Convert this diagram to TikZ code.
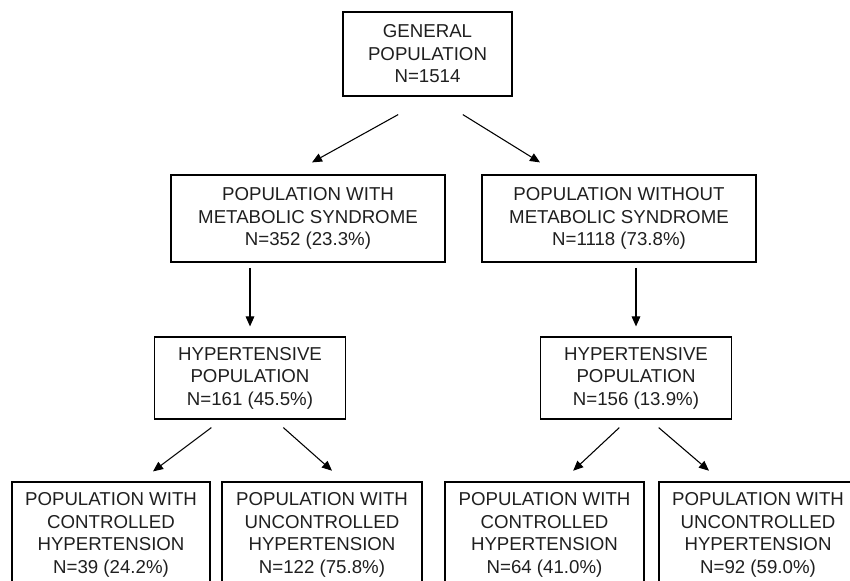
\documentclass[tikz,border=0pt]{standalone}
\usepackage{fontspec}
\setmainfont{Liberation Sans}
\usetikzlibrary{arrows.meta, positioning, calc}

\begin{document}
\begin{tikzpicture}[
  x=0.75pt, y=-0.75pt,
  box/.style={rectangle, draw, line width=0.9pt, inner sep=0pt, align=center, text=black!88, font=\fontsize{14}{16.9}\selectfont},
  arrow/.style={-{Triangle[length=7.5pt, width=6.5pt]}, line width=0.8pt}
]
\useasboundingbox (0,0) rectangle (850,581);
\clip (0,0) rectangle (850,581);

\node[box, minimum width=126.75pt, minimum height=63pt] (gen) at (427.5,54) {GENERAL\\POPULATION\\N=1514};
\node[box, minimum width=205.5pt, minimum height=65.25pt] (msyes) at (308,218.5) {POPULATION WITH\\METABOLIC SYNDROME\\N=352 (23.3\%)};
\node[box, minimum width=205.5pt, minimum height=65.25pt] (msno) at (619,218.5) {POPULATION WITHOUT\\METABOLIC SYNDROME\\N=1118 (73.8\%)};
\node[box, minimum width=143.25pt, minimum height=61.5pt] (hypyes) at (250,378) {HYPERTENSIVE\\POPULATION\\N=161 (45.5\%)};
\node[box, minimum width=143.25pt, minimum height=61.5pt] (hypno) at (636,378) {HYPERTENSIVE\\POPULATION\\N=156 (13.9\%)};
\node[box, minimum width=148.5pt, minimum height=79.5pt] (ctrlyes) at (111,535) {POPULATION WITH\\CONTROLLED\\HYPERTENSION\\N=39 (24.2\%)};
\node[box, minimum width=150pt, minimum height=79.5pt] (unctrlyes) at (322,535) {POPULATION WITH\\UNCONTROLLED\\HYPERTENSION\\N=122 (75.8\%)};
\node[box, minimum width=149.25pt, minimum height=79.5pt] (ctrlno) at (544.5,535) {POPULATION WITH\\CONTROLLED\\HYPERTENSION\\N=64 (41.0\%)};
\node[box, minimum width=148.5pt, minimum height=79.5pt] (unctrlno) at (758,535) {POPULATION WITH\\UNCONTROLLED\\HYPERTENSION\\N=92 (59.0\%)};

\draw[arrow] ([xshift=-22pt, yshift=-13.5pt]gen.south) -- ([xshift=3pt, yshift=9pt]msyes.north);
\draw[arrow] ([xshift=26.5pt, yshift=-13.5pt]gen.south) -- ([xshift=-59.25pt, yshift=9pt]msno.north);
\draw[arrow] ($(hypyes.north |- msyes.south)+(0,-4pt)$) -- ([yshift=7.5pt]hypyes.north);
\draw[arrow] ($(hypno.north |- msno.south)+(0,-4pt)$) -- ([yshift=7.5pt]hypno.north);
\draw[arrow] ([xshift=-29pt, yshift=-6pt]hypyes.south) -- ([xshift=31.5pt, yshift=7.5pt]ctrlyes.north);
\draw[arrow] ([xshift=25pt, yshift=-6pt]hypyes.south) -- ([xshift=7.5pt, yshift=8pt]unctrlyes.north);
\draw[arrow] ([xshift=-12.5pt, yshift=-6pt]hypno.south) -- ([xshift=21.5pt, yshift=8pt]ctrlno.north);
\draw[arrow] ([xshift=17pt, yshift=-6pt]hypno.south) -- ([xshift=-36.75pt, yshift=8pt]unctrlno.north);
\end{tikzpicture}
\end{document}
